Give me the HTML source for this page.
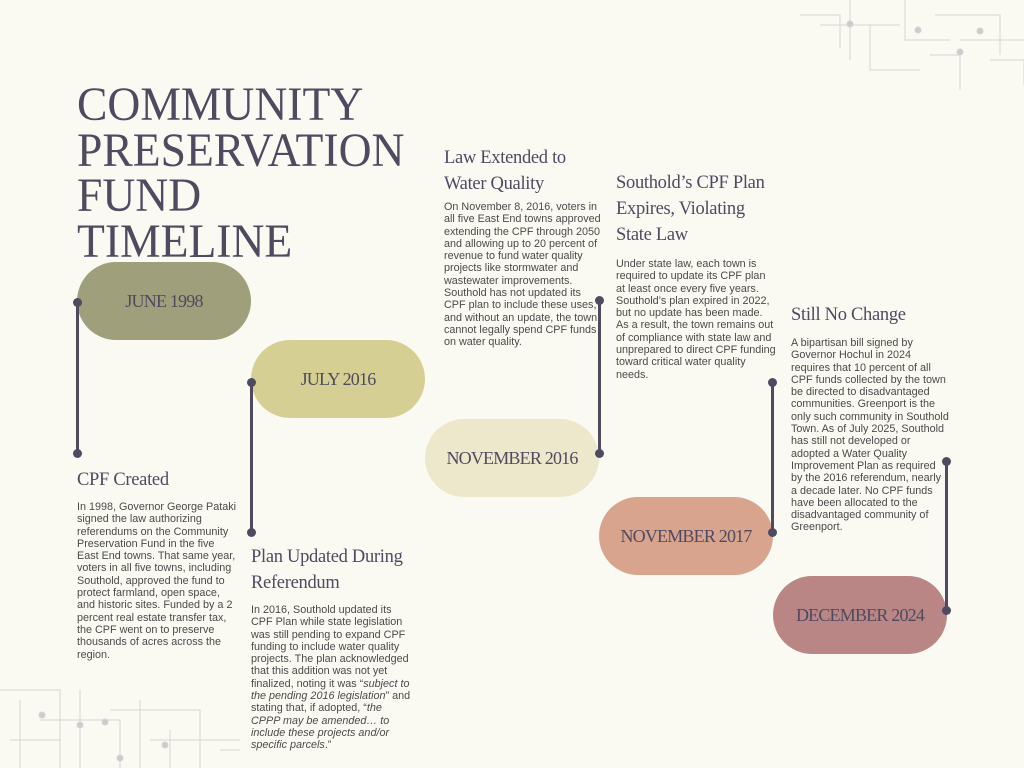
<!DOCTYPE html>
<html><head><meta charset="utf-8"><style>
body{margin:0;width:1024px;height:768px;background:#fafaf3;position:relative;overflow:hidden;font-family:"Liberation Sans",sans-serif}
.t{position:absolute;left:77px;top:82px;font-family:"Liberation Serif",serif;font-size:48px;line-height:45.5px;color:#4f4a60;transform:scaleX(0.95);transform-origin:left top;white-space:nowrap}
.p{position:absolute;width:174px;height:78px;border-radius:39px;display:flex;align-items:center;justify-content:center;font-family:"Liberation Serif",serif;font-size:18px;color:#4f4a60;letter-spacing:-0.8px}
.h{position:absolute;font-family:"Liberation Serif",serif;font-size:18.5px;line-height:26px;color:#4f4a60;letter-spacing:-0.3px}
.b{position:absolute;font-size:10.8px;line-height:12.3px;color:#4a4a4a}
.v{position:absolute;width:2.5px;background:#4f4a60}
.d{position:absolute;width:9px;height:9px;border-radius:50%;background:#4f4a60}
</style></head><body>
<svg width="1024" height="768" style="position:absolute;left:0;top:0" stroke="#d4d4d4" fill="none" stroke-width="1">
<g>
<path d="M800 15H840V48M820 25H900M850 0V60M870 25V70H920M905 0V40H950M935 15H1000V55M960 40H1024M990 60H1024V85M930 55H960V90"/>
<circle cx="850" cy="24" r="3" fill="#ccc"/><circle cx="918" cy="30" r="3" fill="#ccc"/><circle cx="960" cy="52" r="3" fill="#ccc"/><circle cx="980" cy="31" r="3" fill="#ccc"/>
<path d="M0 690H60V768M20 700V768M40 720H120V768M80 690V768M110 710H200V768M150 740H240M140 700V768M170 730V768M200 720V768M220 750H240M10 740H60"/>
<circle cx="42" cy="715" r="3" fill="#ccc"/><circle cx="80" cy="725" r="3" fill="#ccc"/><circle cx="105" cy="722" r="3" fill="#ccc"/><circle cx="165" cy="745" r="3" fill="#ccc"/><circle cx="120" cy="758" r="3" fill="#ccc"/>
</g></svg>
<div class="t">COMMUNITY<br>PRESERVATION<br>FUND<br>TIMELINE</div>

<div class="p" style="left:77px;top:262px;background:#a09f7c">JUNE 1998</div>
<div class="p" style="left:251px;top:340px;background:#d6cf93">JULY 2016</div>
<div class="p" style="left:425px;top:419px;background:#ede8cb">NOVEMBER 2016</div>
<div class="p" style="left:599px;top:497px;background:#d8a48e">NOVEMBER 2017</div>
<div class="p" style="left:773px;top:576px;background:#b98585">DECEMBER 2024</div>

<div class="v" style="left:76px;top:302px;height:151px"></div><div class="d" style="left:73px;top:298px"></div><div class="d" style="left:73px;top:449px"></div>
<div class="v" style="left:250px;top:382px;height:150px"></div><div class="d" style="left:247px;top:378px"></div><div class="d" style="left:247px;top:528px"></div>
<div class="v" style="left:598px;top:300px;height:153px"></div><div class="d" style="left:595px;top:296px"></div><div class="d" style="left:595px;top:449px"></div>
<div class="v" style="left:771px;top:382px;height:150px"></div><div class="d" style="left:768px;top:378px"></div><div class="d" style="left:768px;top:528px"></div>
<div class="v" style="left:945px;top:461px;height:149px"></div><div class="d" style="left:942px;top:457px"></div><div class="d" style="left:942px;top:606px"></div>

<div class="h" style="left:77px;top:467px">CPF Created</div>
<div class="b" style="left:77px;top:501px;width:160px">In 1998, Governor George Pataki signed the law authorizing referendums on the Community Preservation Fund in the five East End towns. That same year, voters in all five towns, including Southold, approved the fund to protect farmland, open space, and historic sites. Funded by a 2 percent real estate transfer tax, the CPF went on to preserve thousands of acres across the region.</div>

<div class="h" style="left:251px;top:544px">Plan Updated During<br>Referendum</div>
<div class="b" style="left:251px;top:604px;width:160px">In 2016, Southold updated its CPF Plan while state legislation was still pending to expand CPF funding to include water quality projects. The plan acknowledged that this addition was not yet finalized, noting it was “<i>subject to the pending 2016 legislation</i>” and stating that, if adopted, “<i>the CPPP may be amended… to include these projects and/or specific parcels</i>.”</div>

<div class="h" style="left:444px;top:145px">Law Extended to<br>Water Quality</div>
<div class="b" style="left:444px;top:201px;width:160px">On November 8, 2016, voters in all five East End towns approved extending the CPF through 2050 and allowing up to 20 percent of revenue to fund water quality projects like stormwater and wastewater improvements. Southold has not updated its CPF plan to include these uses, and without an update, the town cannot legally spend CPF funds on water quality.</div>

<div class="h" style="left:616px;top:170px">Southold’s CPF Plan<br>Expires, Violating<br>State Law</div>
<div class="b" style="left:616px;top:258px;width:160px">Under state law, each town is required to update its CPF plan at least once every five years. Southold’s plan expired in 2022, but no update has been made. As a result, the town remains out of compliance with state law and unprepared to direct CPF funding toward critical water quality needs.</div>

<div class="h" style="left:791px;top:302px">Still No Change</div>
<div class="b" style="left:791px;top:337px;width:158px">A bipartisan bill signed by Governor Hochul in 2024 requires that 10 percent of all CPF funds collected by the town be directed to disadvantaged communities. Greenport is the only such community in Southold Town. As of July 2025, Southold has still not developed or adopted a Water Quality Improvement Plan as required by the 2016 referendum, nearly a decade later. No CPF funds have been allocated to the disadvantaged community of Greenport.</div>
</body></html>
